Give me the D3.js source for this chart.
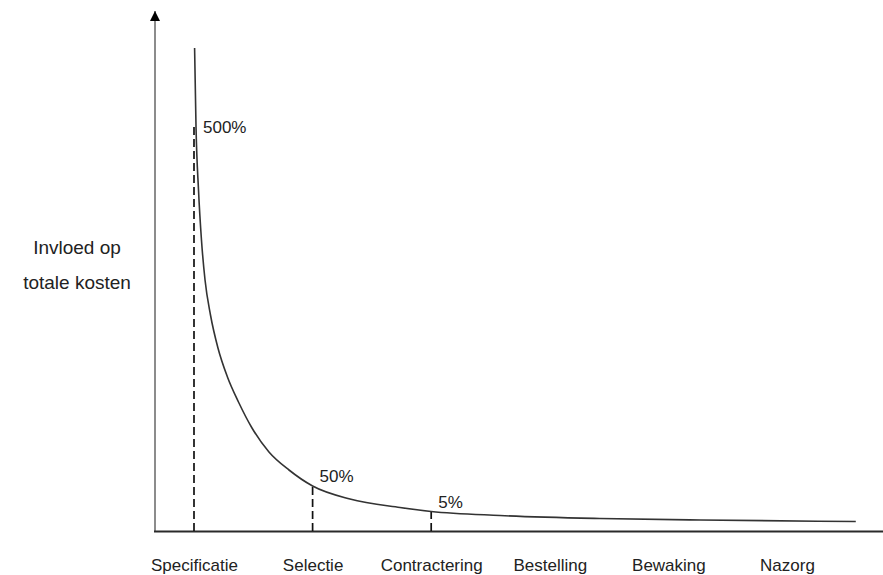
<!DOCTYPE html>
<html>
<head>
<meta charset="utf-8">
<script src="https://cdn.jsdelivr.net/npm/d3@7"></script>
<style>
  html, body { margin: 0; padding: 0; background: #fff; }
  svg { display: block; }
  text { font-family: "Liberation Sans", Arial, sans-serif; fill: #222; }
</style>
</head>
<body>
<svg id="chart" width="883" height="575"></svg>
<script>
// ---- data ----
const categories = ["Specificatie", "Selectie", "Contractering", "Bestelling", "Bewaking", "Nazorg"];
// curve: phase position (0 = Specificatie ... 5 = Nazorg) and influence on total cost (arbitrary units)
const curveX = [0.005, 0.017, 0.038, 0.063, 0.093, 0.139, 0.202, 0.282, 0.375, 0.489, 0.632, 0.801, 1.0, 1.315, 1.737, 2.0, 2.58, 3.42, 4.27, 5.58];
const curveY = [96.6, 80.8, 68.2, 58.2, 50.2, 43.2, 36.6, 30.8, 25.8, 20.6, 15.8, 12.2, 9.0, 6.4, 4.7, 3.9, 3.1, 2.5, 2.2, 1.9];
// marked phases with their labels and level
const markerPhase = [0, 1, 2];
const markerLevel = [80.8, 9.0, 3.9];
const markerLabel = ["500%", "50%", "5%"];
const yTitle = ["Invloed op", "totale kosten"];

// ---- scales ----
const svg = d3.select("#chart");
const x = d3.scaleLinear().domain([0, 5]).range([194, 787]);
const xCat = d3.scalePoint().domain(categories).range([194, 787]);
const y = d3.scaleLinear().domain([0, 104]).range([531, 11]);

// arrow marker
svg.append("defs").append("marker")
  .attr("id", "arrow").attr("viewBox", "0 0 10 10")
  .attr("refX", 10).attr("refY", 5)
  .attr("markerWidth", 11).attr("markerHeight", 10)
  .attr("markerUnits", "userSpaceOnUse")
  .attr("orient", "auto")
  .append("path").attr("d", "M0,0 L10,5 L0,10 Z").attr("fill", "#000");

// y axis (line with arrow)
svg.append("line")
  .attr("x1", 155).attr("x2", 155)
  .attr("y1", y(0)).attr("y2", y(104))
  .attr("stroke", "#8c8c8c").attr("stroke-width", 2)
  .attr("marker-end", "url(#arrow)");

// x axis line
svg.append("line")
  .attr("x1", 154).attr("x2", 883)
  .attr("y1", y(0) + 0.5).attr("y2", y(0) + 0.5)
  .attr("stroke", "#2a2a2a").attr("stroke-width", 2);

// dashed drop lines
svg.selectAll("line.drop").data(markerPhase).join("line")
  .attr("class", "drop")
  .attr("x1", d => x(d)).attr("x2", d => x(d))
  .attr("y1", y(0)).attr("y2", (d, i) => y(markerLevel[i]))
  .attr("stroke", "#111").attr("stroke-width", 1.7)
  .attr("stroke-dasharray", "8,4");

// curve
const pts = curveX.map((v, i) => [v, curveY[i]]);
svg.append("path")
  .datum(pts)
  .attr("fill", "none")
  .attr("stroke", "#333")
  .attr("stroke-width", 1.6)
  .attr("d", d3.line().x(d => x(d[0])).y(d => y(d[1])).curve(d3.curveMonotoneX));

// percentage labels
svg.selectAll("text.pct").data(markerLabel).join("text")
  .attr("class", "pct")
  .attr("x", (d, i) => x(markerPhase[i]) + (i === 0 ? 9 : 7))
  .attr("y", (d, i) => y(markerLevel[i]) + (i === 0 ? 6 : -4))
  .attr("font-size", 17)
  .text(d => d);

// category axis
const gx = svg.append("g")
  .attr("transform", `translate(0,${y(0)})`)
  .call(d3.axisBottom(xCat).tickSize(0).tickPadding(28));
gx.select(".domain").remove();
gx.selectAll("text")
  .attr("font-family", "Liberation Sans, Arial, sans-serif")
  .attr("font-size", 17)
  .attr("fill", "#222");

// y title
svg.append("g").selectAll("text").data(yTitle).join("text")
  .attr("x", 77)
  .attr("y", (d, i) => 254 + i * 35)
  .attr("text-anchor", "middle")
  .attr("font-size", 19)
  .text(d => d);
</script>
</body>
</html>
